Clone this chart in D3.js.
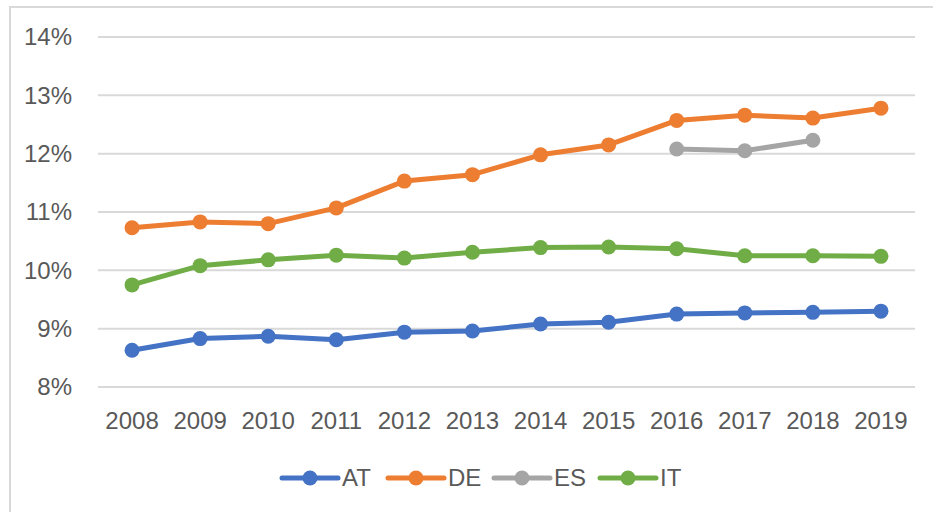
<!DOCTYPE html>
<html>
<head>
<meta charset="utf-8">
<script src="https://cdn.jsdelivr.net/npm/d3@7"></script>
<style>
  body { margin: 0; background: #fff; }
  svg text { font-family: "Liberation Sans", Arial, sans-serif; fill: #595959; }
</style>
</head>
<body>
<div id="chart"></div>
<script>
// chart data
const years = ["2008", "2009", "2010", "2011", "2012", "2013", "2014", "2015", "2016", "2017", "2018", "2019"];
const seriesNames = ["AT", "DE", "ES", "IT"];
const atValues = [8.63, 8.83, 8.87, 8.81, 8.94, 8.96, 9.08, 9.11, 9.25, 9.27, 9.28, 9.30];
const deValues = [10.73, 10.83, 10.80, 11.07, 11.53, 11.64, 11.98, 12.15, 12.57, 12.66, 12.61, 12.78];
const esValues = [null, null, null, null, null, null, null, null, 12.08, 12.05, 12.23, null];
const itValues = [9.75, 10.08, 10.18, 10.26, 10.21, 10.31, 10.39, 10.40, 10.37, 10.25, 10.25, 10.24];
const yTicks = [8, 9, 10, 11, 12, 13, 14];

const colors = { AT: "#4472C4", DE: "#ED7D31", ES: "#A5A5A5", IT: "#70AD47" };
const series = [
  { name: "AT", values: atValues },
  { name: "DE", values: deValues },
  { name: "ES", values: esValues },
  { name: "IT", values: itValues }
];

const width = 933, height = 512;
const plot = { left: 98, right: 915, top: 37, bottom: 387 };

const svg = d3.select("#chart")
  .append("svg")
    .attr("width", width)
    .attr("height", height);

// chart area border (only top and left are visible in the crop)
svg.append("rect")
  .attr("x", 10).attr("y", 7)
  .attr("width", 940).attr("height", 520)
  .attr("fill", "none")
  .attr("stroke", "#D9D9D9")
  .attr("stroke-width", 2);

const x = d3.scaleBand()
  .domain(years)
  .range([plot.left, plot.right]);

const y = d3.scaleLinear()
  .domain([8, 14])
  .range([plot.bottom, plot.top]);

// gridlines
svg.append("g")
  .selectAll("line")
  .data(yTicks)
  .join("line")
    .attr("x1", plot.left)
    .attr("x2", plot.right)
    .attr("y1", d => y(d))
    .attr("y2", d => y(d))
    .attr("stroke", "#D9D9D9")
    .attr("stroke-width", 2);

// y axis labels
const yAxis = svg.append("g")
  .attr("transform", `translate(${plot.left - 26},0)`)
  .call(d3.axisLeft(y).tickValues(yTicks).tickSize(0).tickPadding(0).tickFormat(d => d + "%"));
yAxis.select(".domain").remove();
yAxis.selectAll("text")
  .attr("font-size", 24)
  .attr("font-family", null)
  .attr("fill", null);

// x axis labels
const xAxis = svg.append("g")
  .attr("transform", `translate(0,${plot.bottom})`)
  .call(d3.axisBottom(x).tickSize(0).tickPadding(25));
xAxis.select(".domain").remove();
xAxis.selectAll("text")
  .attr("font-size", 24)
  .attr("font-family", null)
  .attr("fill", null);

const line = d3.line()
  .defined(d => d.v != null)
  .x(d => x(d.year) + x.bandwidth() / 2)
  .y(d => y(d.v));

const groups = svg.selectAll(".series")
  .data(series)
  .join("g")
    .attr("class", "series");

groups.append("path")
  .attr("d", s => line(years.map((yr, i) => ({ year: yr, v: s.values[i] }))))
  .attr("fill", "none")
  .attr("stroke", s => colors[s.name])
  .attr("stroke-width", 5)
  .attr("stroke-linejoin", "round");

groups.selectAll("circle")
  .data(s => years.map((yr, i) => ({ year: yr, v: s.values[i], name: s.name })).filter(d => d.v != null))
  .join("circle")
    .attr("cx", d => x(d.year) + x.bandwidth() / 2)
    .attr("cy", d => y(d.v))
    .attr("r", 7.5)
    .attr("fill", d => colors[d.name]);

// legend
const legendX = d3.scalePoint()
  .domain(seriesNames)
  .range([282, 600]);

const legend = svg.append("g")
  .selectAll("g")
  .data(seriesNames)
  .join("g")
    .attr("transform", d => `translate(${legendX(d)},478)`);

legend.append("line")
  .attr("x1", 0).attr("x2", 56)
  .attr("stroke", d => colors[d])
  .attr("stroke-width", 5)
  .attr("stroke-linecap", "round");

legend.append("circle")
  .attr("cx", 28)
  .attr("r", 7.5)
  .attr("fill", d => colors[d]);

legend.append("text")
  .attr("x", 60)
  .attr("y", 8)
  .attr("font-size", 24)
  .text(d => d);
</script>
</body>
</html>
